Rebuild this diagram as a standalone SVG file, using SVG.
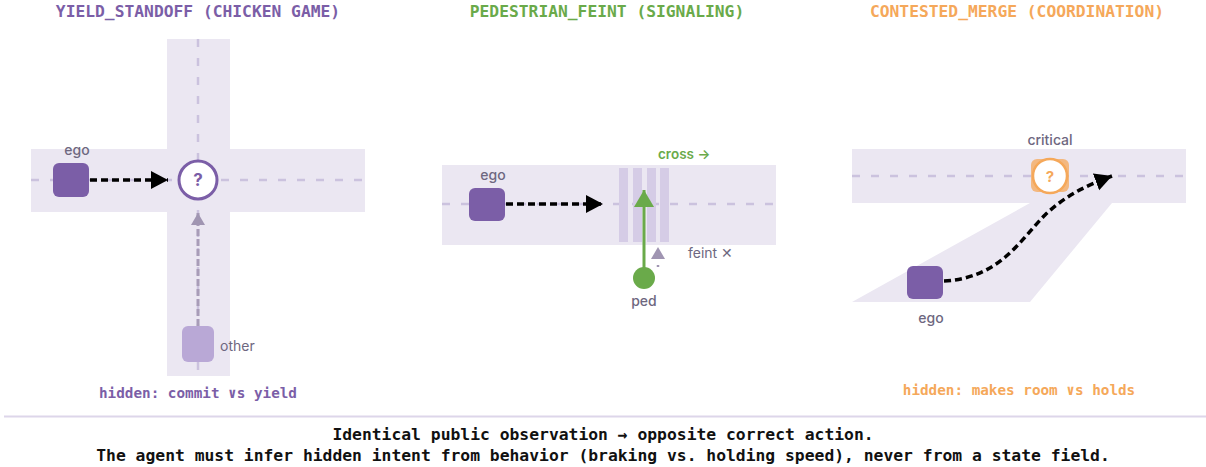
<svg xmlns="http://www.w3.org/2000/svg" width="1206" height="467" viewBox="0 0 1206 467">
<style>
.road{fill:#ebe7f2}
.center{stroke:#cbc2de;stroke-width:2.5;stroke-dasharray:8 11;fill:none}
.title{font-family:"DejaVu Sans Mono","Liberation Mono",monospace;font-weight:bold;font-size:16.3px;text-anchor:middle}
.hidden{font-family:"DejaVu Sans Mono","Liberation Mono",monospace;font-weight:bold;font-size:14.3px;text-anchor:middle}
.lbl{font-family:Inter,"Noto Sans",sans-serif;font-size:14px;fill:#6e6780}
.lbls{font-family:Inter,"Noto Sans",sans-serif;font-size:14px;font-weight:500;fill:#6e6780}
.egocar{fill:#7b5ea7}
.foot{font-family:"DejaVu Sans Mono","Liberation Mono",monospace;font-weight:bold;font-size:16.35px;text-anchor:middle;fill:#111}
.blk{stroke:#000;stroke-width:3.5;stroke-dasharray:7 4;fill:none}
</style>
<defs>
<marker id="ah" markerUnits="userSpaceOnUse" markerWidth="18" markerHeight="19" refX="17" refY="9" orient="auto">
<path d="M0,0 L17,9 L0,18 z" fill="#000"/>
</marker>
<marker id="ahg" markerUnits="userSpaceOnUse" markerWidth="13" markerHeight="15" refX="12" refY="7" orient="auto">
<path d="M0,0 L12,7 L0,14 z" fill="#a095b2"/>
</marker>
<marker id="ahgreen" markerUnits="userSpaceOnUse" markerWidth="18" markerHeight="21" refX="17" refY="10" orient="auto">
<path d="M0,0 L17,10 L0,20 z" fill="#6aaa4a"/>
</marker>
</defs>

<!-- Panel 1 -->
<g id="panel1">
<text class="title" x="198" y="17" fill="#7b5ea7">YIELD_STANDOFF (CHICKEN GAME)</text>
<rect class="road" x="167" y="39" width="63" height="337"/>
<rect class="road" x="31" y="149" width="334" height="63"/>
<line class="center" x1="31" y1="180" x2="365" y2="180"/>
<line class="center" x1="198" y1="39" x2="198" y2="379"/>
</g>
<g id="p1-ego">
<rect class="egocar" x="53" y="163" width="36" height="34" rx="6"/>
<text class="lbls" x="77" y="155" text-anchor="middle">ego</text>
</g>
<g id="p1-conflict">
<circle cx="198" cy="180" r="19" fill="#fff" stroke="#7b5ea7" stroke-width="3"/>
<text x="198" y="186" text-anchor="middle" font-family="Inter,'Noto Sans',sans-serif" font-weight="bold" font-size="17" fill="#7b5ea7">?</text>
</g>
<g id="p1-other">
<rect x="182" y="326" width="32" height="36" rx="6" fill="#b9a8d6"/>
<text class="lbl" x="220" y="351">other</text>
</g>
<text class="hidden" x="198" y="398" fill="#7b5ea7">hidden: commit ∨s yield</text>

<!-- Panel 2 -->
<g id="panel2">
<text class="title" x="607" y="17" fill="#6aaa4a">PEDESTRIAN_FEINT (SIGNALING)</text>
<rect class="road" x="442" y="165" width="334" height="80"/>
<line class="center" x1="442" y1="204" x2="776" y2="204"/>
<g fill="#d5cce6">
<rect x="619" y="168" width="9" height="74"/>
<rect x="633" y="168" width="9" height="74"/>
<rect x="647" y="168" width="9" height="74"/>
<rect x="660" y="168" width="9" height="74"/>
</g>
</g>
<g id="p2-ego">
<rect class="egocar" x="469" y="188" width="36" height="33" rx="6"/>
<text class="lbls" x="493" y="180" text-anchor="middle">ego</text>
</g>
<g id="p2-ped">
<circle cx="644" cy="278" r="11" fill="#6aaa4a"/>
<text class="lbls" x="644" y="306" text-anchor="middle">ped</text>
</g>
<text x="658" y="159" font-family="Inter,'Noto Sans',sans-serif" font-size="13.5" font-weight="600" fill="#6aaa4a">cross →</text>
<text class="lbl" x="688" y="258">feint ✕</text>

<!-- Panel 3 -->
<g id="panel3">
<text class="title" x="1017" y="17" fill="#f5a85a">CONTESTED_MERGE (COORDINATION)</text>
<rect class="road" x="852" y="149" width="334" height="54"/>
<polygon class="road" points="852,302 1030,302 1112,203 1030,203"/>
<line class="center" x1="852" y1="176" x2="1186" y2="176"/>
</g>
<g id="p3-critical">
<rect x="1031" y="159" width="38" height="33" rx="6" fill="#f5a85a" opacity="0.75"/>
<circle cx="1050" cy="176" r="17" fill="#fff" stroke="#f5a85a" stroke-width="2.5"/>
<text x="1050" y="182" text-anchor="middle" font-family="Inter,'Noto Sans',sans-serif" font-weight="bold" font-size="15" fill="#f5a85a">?</text>
<text class="lbls" x="1050" y="145" text-anchor="middle">critical</text>
</g>
<g id="p3-ego">
<rect class="egocar" x="907" y="266" width="36" height="33" rx="6"/>
<text class="lbls" x="931" y="323" text-anchor="middle">ego</text>
</g>
<text class="hidden" x="1019" y="395" fill="#f5a85a">hidden: makes room ∨s holds</text>

<!-- Connectors -->
<g id="connectors">
<line class="blk" x1="90" y1="180" x2="168" y2="180" marker-end="url(#ah)"/>
<line x1="198" y1="326" x2="198" y2="213" stroke="#a89cb8" stroke-width="3" stroke-dasharray="7 3" marker-end="url(#ahg)"/>
<line class="blk" x1="506" y1="204" x2="603" y2="204" marker-end="url(#ah)"/>
<line x1="644" y1="278" x2="644" y2="190" stroke="#6aaa4a" stroke-width="3" marker-end="url(#ahgreen)"/>
<line x1="658" y1="267" x2="658" y2="247" stroke="#a095b2" stroke-width="2.5" stroke-dasharray="2 30" marker-end="url(#ahg)"/>
<path class="blk" d="M944,281 C1000,278 1020,240 1045,215 C1065,196 1085,186 1112,176" marker-end="url(#ah)"/>
</g>

<!-- Footer -->
<line x1="4" y1="416.5" x2="1206" y2="416.5" stroke="#ddd6ea" stroke-width="2"/>
<text class="foot" x="603" y="440">Identical public observation → opposite correct action.</text>
<text class="foot" x="603" y="461">The agent must infer hidden intent from behavior (braking vs. holding speed), never from a state field.</text>
</svg>
